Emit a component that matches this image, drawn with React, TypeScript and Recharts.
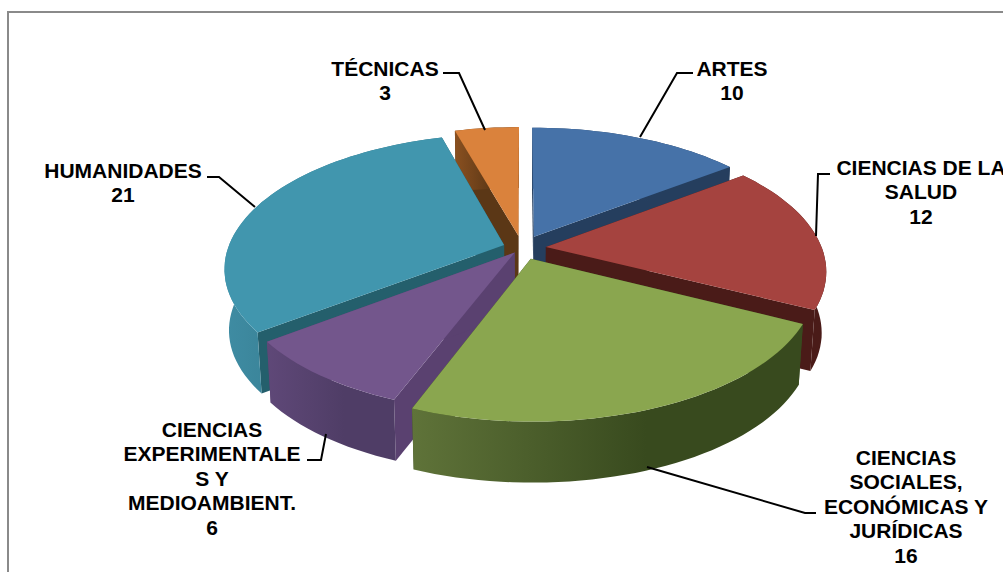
import { PieChart, Pie } from 'recharts'

const categories = [
  'ARTES',
  'CIENCIAS DE LA SALUD',
  'CIENCIAS SOCIALES, ECONÓMICAS Y JURÍDICAS',
  'CIENCIAS EXPERIMENTALES Y MEDIOAMBIENT.',
  'HUMANIDADES',
  'TÉCNICAS',
]
const values = [10, 12, 16, 6, 21, 3]
const labelLines = [
  ['ARTES'],
  ['CIENCIAS DE LA', 'SALUD'],
  ['CIENCIAS', 'SOCIALES,', 'ECONÓMICAS Y', 'JURÍDICAS'],
  ['CIENCIAS', 'EXPERIMENTALE', 'S Y', 'MEDIOAMBIENT.'],
  ['HUMANIDADES'],
  ['TÉCNICAS'],
]

const topColors = ['#4672A8', '#A5433F', '#8AA64F', '#73568C', '#4196AE', '#DA823C']
const wallColors = ['#253E5E', '#4A1B18', '#394A1E', '#5A4170', '#245F6C', '#5B3716']
const rimFrom = ['#2E4D73', '#4E1D1A', '#5F7339', '#5F4878', '#3F8CA3', '#8A5020']
const rimTo = ['#253E5E', '#4A1B18', '#384A1E', '#4F3D66', '#327586', '#5B3716']

// back to front, so nearer slices paint over the ones behind
const drawOrder = [0, 5, 4, 1, 3, 2]

// how far each slice is pulled out of the pie
const explosion = [27, 24, 24, 12, 19, 26]

// label block centre, first line y, and the leader line points
const labelLayout = [
  { x: 732, y: 68, line: '693,73 677,73 640,137' },
  { x: 921, y: 167, line: '830,174 818,174 816,236' },
  { x: 906, y: 457, line: '816,513 805,513 647,467' },
  { x: 212, y: 429, line: '307,460 321,460 326,434' },
  { x: 123, y: 170, line: '207,177 219,177 255,207' },
  { x: 385, y: 68, line: '443,73 459,73 485,130' },
]

const WIDTH = 1003
const HEIGHT = 572
const CX = 522
const CY = 248
const RADIUS = 276
const SQUASH = 0.475
const PERSPECTIVE = 0.17
const DEPTH = 61
const BOTTOM_SCALE = 0.985

const data = categories.map((name, i) => ({ name, value: values[i] }))

type Pt = [number, number]

// plane coordinates (x right, y towards the back) to screen
function project(x: number, y: number): Pt {
  const p = 1 / (1 + (PERSPECTIVE * y) / RADIUS)
  return [CX + x * p, CY - SQUASH * y * p]
}

function lower([x, y]: Pt): Pt {
  return [CX + (x - CX) * BOTTOM_SCALE, y + DEPTH]
}

function toPath(points: Pt[]): string {
  return 'M' + points.map((p) => `${p[0].toFixed(1)},${p[1].toFixed(1)}`).join('L') + 'Z'
}

const sliceShape = (only: number) => (props: any) => {
  if (props.name !== categories[only]) return null
  const a0 = 90 - props.startAngle
  const a1 = 90 - props.endAngle
  const mid = (((a0 + a1) / 2) * Math.PI) / 180
  const ox = explosion[only] * Math.sin(mid)
  const oy = explosion[only] * Math.cos(mid)
  const apex = project(ox, oy)
  const arc: Pt[] = []
  const steps = Math.max(8, Math.ceil((a1 - a0) / 2))
  for (let i = 0; i <= steps; i++) {
    const t = ((a0 + ((a1 - a0) * i) / steps) * Math.PI) / 180
    arc.push(project(ox + props.outerRadius * Math.sin(t), oy + props.outerRadius * Math.cos(t)))
  }
  const first = arc[0]
  const last = arc[arc.length - 1]
  const rim = [...arc, ...arc.map(lower).reverse()]
  const gradId = `rim-${only}`
  return (
    <g>
      <defs>
        <linearGradient id={gradId} x1="0" y1="0" x2="1" y2="0">
          <stop offset="0%" stopColor={rimFrom[only]} />
          <stop offset="60%" stopColor={rimTo[only]} />
          <stop offset="100%" stopColor={rimTo[only]} />
        </linearGradient>
      </defs>
      <path d={toPath([apex, first, lower(first), lower(apex)])} fill={wallColors[only]} />
      <path d={toPath([apex, last, lower(last), lower(apex)])} fill={wallColors[only]} />
      <path d={toPath(rim)} fill={`url(#${gradId})`} />
      <path d={toPath([apex, ...arc])} fill={topColors[only]} />
    </g>
  )
}

function renderLabel(props: any) {
  const i = props.index
  const layout = labelLayout[i]
  const lines = [...labelLines[i], String(values[i])]
  return (
    <g key={categories[i]}>
      <polyline points={layout.line} fill="none" stroke="#000" strokeWidth={2} />
      {lines.map((text, k) => (
        <text
          key={k}
          x={layout.x}
          y={layout.y + k * 24.6}
          textAnchor="middle"
          dominantBaseline="central"
          fontFamily="'Liberation Sans', Arial, sans-serif"
          fontWeight="bold"
          fontSize={21}
          fill="#000"
        >
          {text}
        </text>
      ))}
    </g>
  )
}

export default function App() {
  return (
    <div
      style={{
        position: 'absolute',
        left: 0,
        top: 0,
        width: WIDTH,
        height: HEIGHT,
        overflow: 'hidden',
        background: '#fff',
      }}
    >
      <div
        style={{
          position: 'absolute',
          left: 7,
          top: 11,
          width: WIDTH + 100,
          height: HEIGHT + 100,
          border: '2px solid #8A8A8A',
        }}
      />
      <div style={{ position: 'absolute', left: 0, top: 0 }}>
        <PieChart width={WIDTH} height={HEIGHT} margin={{ top: 0, right: 0, bottom: 0, left: 0 }}>
          {drawOrder.map((only, k) => (
            <Pie
              key={only}
              data={data}
              dataKey="value"
              nameKey="name"
              cx={CX}
              cy={CY}
              innerRadius={0}
              outerRadius={RADIUS}
              startAngle={90}
              endAngle={-270}
              stroke="none"
              shape={sliceShape(only)}
              label={k === drawOrder.length - 1 ? renderLabel : false}
              labelLine={false}
              isAnimationActive={false}
            />
          ))}
        </PieChart>
      </div>
    </div>
  )
}
